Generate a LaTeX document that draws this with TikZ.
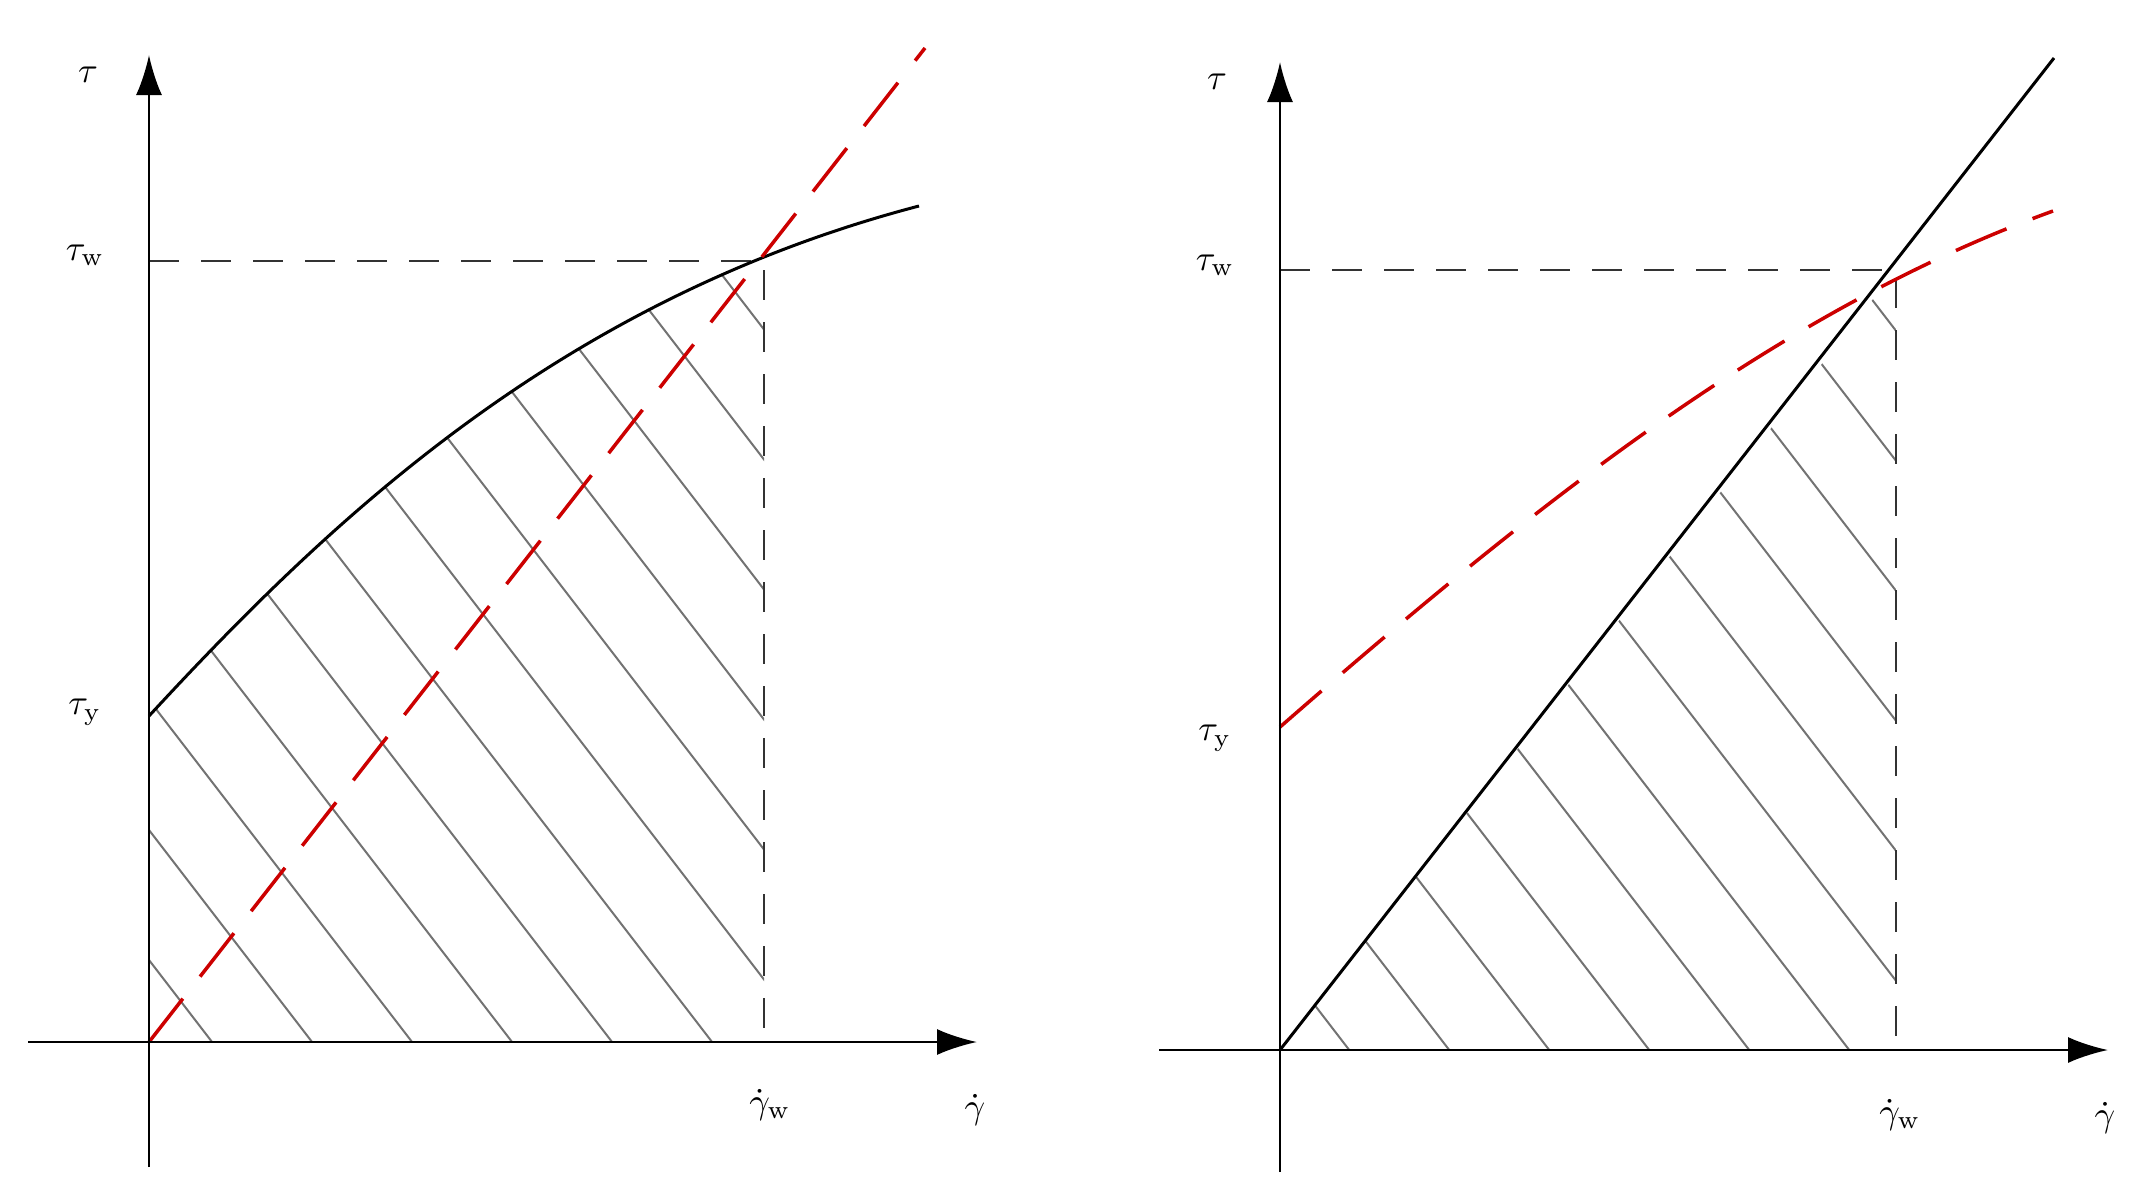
\documentclass[tikz,border=0pt]{standalone}
\usetikzlibrary{arrows.meta}
\begin{document}
\begin{tikzpicture}[x=1pt,y=-1pt,
 ax/.style={line width=2.5pt,-{Latex[length=40pt,width=26pt]}},
 ref/.style={line width=2.5pt,dash pattern=on 30pt off 22pt,black!80},
 reddash/.style={line width=3.5pt,red!80!black,dash pattern=on 55pt off 28pt},
 curve/.style={line width=3pt},
 hatch/.style={line width=2pt,black!55},
 lab/.style={scale=3.6}]
\useasboundingbox (0,0) rectangle (2147,1200);
% ---- left
\coordinate (O1) at (149,1042);
\coordinate (W1) at (764,261);
\coordinate (G1) at (764,1042);
\coordinate (T1) at (149,261);
\coordinate (Y1) at (149,716);
\coordinate (E1) at (919,206);
\begin{scope}
\clip (Y1) .. controls (330,520) and (560,300) .. (E1) -- (E1 |- O1) -- (O1) -- cycle;
\clip (O1) rectangle (W1);
\foreach \k in {-400,-300,...,1100}
  \draw[hatch] (149+\k,700) -- ++(500,650) (149+\k,700) -- ++(-500,-650);
\end{scope}
\draw[ref] (T1) -- (W1) -- (G1);
\draw[curve] (Y1) .. controls (330,520) and (560,300) .. (E1);
\draw[reddash] (O1) -- (925,48);
\draw[ax] (28,1042) -- (977,1042);
\draw[ax] (149,1167) -- (149,55);
\node[lab] (tl) at (88,75) {$\tau$};
\node[lab] (twl) at (85,255) {$\tau_{\mathrm w}$};
\node[lab] (tyl) at (85,712) {$\tau_{\mathrm y}$};
\node[lab] (gwl) at (770,1105) {$\dot\gamma_{\mathrm w}$};
\node[lab] (gl) at (975,1110) {$\dot\gamma$};
% ---- right
\coordinate (O2) at (1280,1050);
\coordinate (W2) at (1896,270);
\coordinate (G2) at (1896,1050);
\coordinate (T2) at (1280,270);
\begin{scope}
\clip (O2) -- (W2) -- (G2) -- cycle;
\foreach \k in {-400,-300,...,1100}
  \draw[hatch] (1280+\k,700) -- ++(500,650) (1280+\k,700) -- ++(-500,-650);
\end{scope}
\draw[ref] (T2) -- (W2) -- (G2);
\draw[curve] (O2) -- (2054,58);
\draw[reddash] (1280,727) .. controls (1540,500) and (1780,310) .. (2053,211);
\draw[ax] (1159,1050) -- (2108,1050);
\draw[ax] (1280,1172) -- (1280,62);
\node[lab] (tr) at (1217,82) {$\tau$};
\node[lab] (twr) at (1215,265) {$\tau_{\mathrm w}$};
\node[lab] (tyr) at (1215,738) {$\tau_{\mathrm y}$};
\node[lab] (gwr) at (1900,1115) {$\dot\gamma_{\mathrm w}$};
\node[lab] (gr) at (2105,1118) {$\dot\gamma$};
\end{tikzpicture}
\end{document}
